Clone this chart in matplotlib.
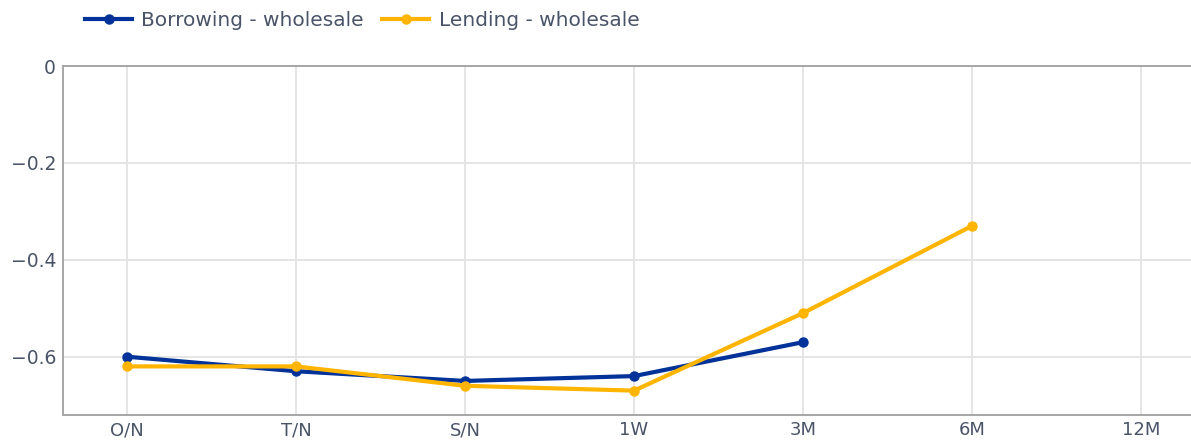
import matplotlib
matplotlib.use("Agg")
import matplotlib.pyplot as plt
from matplotlib.lines import Line2D

categories = ["O/N", "T/N", "S/N", "1W", "3M", "6M", "12M"]
borrowing = [-0.60, -0.63, -0.65, -0.64, -0.57]
lending = [-0.62, -0.62, -0.66, -0.67, -0.51, -0.33]
ytick_vals = [0, -0.2, -0.4, -0.6]
ytick_labels = ["0", "\u22120.2", "\u22120.4", "\u22120.6"]
series_names = ["Borrowing - wholesale", "Lending - wholesale"]

BLUE = "#003299"
YELLOW = "#FFB400"
TEXT = "#4a5468"
GRID = "#e3e3e3"
SPINE = "#a6a6a6"

plt.rcParams["font.family"] = ["DejaVu Sans"]

W, H = 1191, 441
fig = plt.figure(figsize=(W / 100, H / 100), dpi=100)
left, right, top, bottom = 63, 1205, 66, 415
ax = fig.add_axes([left / W, (H - bottom) / H, (right - left) / W, (bottom - top) / H])

x_all = list(range(len(categories)))
ax.plot(x_all[:len(borrowing)], borrowing, color=BLUE, lw=3, marker="o", ms=6.5,
        solid_joinstyle="round", solid_capstyle="round", zorder=3)
ax.plot(x_all[:len(lending)], lending, color=YELLOW, lw=3, marker="o", ms=6.5,
        solid_joinstyle="round", solid_capstyle="round", zorder=3)

ax.set_xlim(-0.379, len(categories) - 1 + 0.379)
ax.set_ylim(-0.7203, 0)
ax.set_xticks(x_all)
ax.set_xticklabels(categories)
ax.set_yticks(ytick_vals)
ax.set_yticklabels(ytick_labels)
ax.tick_params(axis="both", length=0, labelsize=13.5, labelcolor=TEXT)
ax.tick_params(axis="x", pad=4.5, labelsize=13)
ax.tick_params(axis="y", pad=5)
ax.grid(True, color=GRID, lw=1.3, zorder=0)
ax.set_axisbelow(True)
for s in ["left", "bottom", "top"]:
    ax.spines[s].set_color(SPINE)
    ax.spines[s].set_linewidth(1.4)
ax.spines["right"].set_visible(False)

handles = [Line2D([], [], color=BLUE, lw=3, marker="o", ms=6.5),
           Line2D([], [], color=YELLOW, lw=3, marker="o", ms=6.5)]
fig.legend(handles, series_names, loc="center left", bbox_to_anchor=(85 / W, 1 - 21 / H),
           ncol=2, frameon=False, fontsize=14.5, labelcolor=TEXT, handlelength=2.35,
           handletextpad=0.45, columnspacing=0.9, borderpad=0, borderaxespad=0)

fig.savefig("out.png", dpi=100)
